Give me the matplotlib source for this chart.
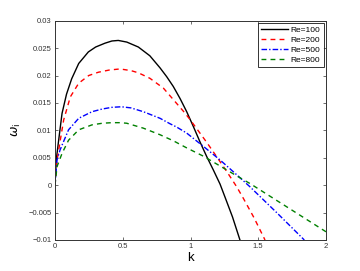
import matplotlib
matplotlib.use("Agg")
import matplotlib.pyplot as plt

# Re = 100
k_100 = [0.0, 0.002, 0.012, 0.027, 0.052, 0.085, 0.123, 0.175, 0.246, 0.30, 0.369, 0.42, 0.467, 0.53, 0.615, 0.70,
         0.775, 0.824, 0.873, 0.923, 0.972, 1.021, 1.07, 1.12, 1.168, 1.218, 1.255, 1.31, 1.365]
w_100 = [0.0, 0.0016, 0.0052, 0.0082, 0.0131, 0.0166, 0.0194, 0.0222, 0.0243, 0.0252, 0.0259, 0.0263, 0.0264, 0.0261, 0.0252, 0.0236,
         0.0214, 0.0198, 0.0180, 0.0158, 0.0134, 0.0107, 0.0079, 0.0052, 0.0028, 0.0002, -0.0022, -0.0058, -0.0100]
# Re = 200
k_200 = [0.0, 0.015, 0.039, 0.064, 0.113, 0.175, 0.249, 0.32, 0.40, 0.48, 0.56, 0.615, 0.70, 0.80, 0.849, 0.898,
         0.947, 0.996, 1.046, 1.12, 1.193, 1.27, 1.341, 1.39, 1.47, 1.55]
w_200 = [0.0, 0.0045, 0.0082, 0.0119, 0.0161, 0.0186, 0.0200, 0.0206, 0.0210, 0.0212, 0.0209, 0.0205, 0.0195, 0.0177, 0.0163, 0.0149,
         0.0135, 0.0120, 0.0103, 0.0078, 0.0052, 0.0024, -0.0003, -0.0024, -0.0060, -0.0100]
# Re = 500
k_500 = [0.0, 0.015, 0.037, 0.052, 0.10, 0.175, 0.273, 0.35, 0.42, 0.49, 0.56, 0.652, 0.775, 0.849, 0.898, 0.972,
         1.094, 1.218, 1.341, 1.439, 1.64, 1.84]
w_500 = [0.0, 0.0046, 0.0064, 0.0073, 0.0101, 0.0122, 0.0134, 0.0139, 0.0142, 0.0143, 0.0141, 0.0134, 0.0122, 0.0112, 0.0106, 0.0095,
         0.0071, 0.0046, 0.0019, -0.0003, -0.0051, -0.0100]
# Re = 800
k_800 = [0.0, 0.015, 0.052, 0.10, 0.175, 0.273, 0.35, 0.42, 0.48, 0.529, 0.652, 0.775, 0.873, 0.972, 1.094, 1.218,
         1.341, 1.439, 1.72, 2.0]
w_800 = [0.0, 0.0034, 0.0058, 0.0082, 0.0101, 0.0110, 0.0113, 0.0114, 0.0114, 0.0113, 0.0104, 0.0092, 0.0081, 0.0068, 0.0053, 0.0035,
         0.0017, 0.0003, -0.0041, -0.0085]

labels = ["Re=100", "Re=200", "Re=500", "Re=800"]
x_ticks = [0, 0.5, 1, 1.5, 2]
x_tick_labels = ["0", "0.5", "1", "1.5", "2"]
y_ticks = [-0.01, -0.005, 0, 0.005, 0.01, 0.015, 0.02, 0.025, 0.03]
y_tick_labels = ["\u22120.01", "\u22120.005", "0", "0.005", "0.01", "0.015", "0.02", "0.025", "0.03"]

plt.rcParams['font.family'] = ['Liberation Sans', 'DejaVu Sans']

fig = plt.figure(figsize=(3.6, 2.71), dpi=100)
ax = fig.add_axes([55/360, 1 - 240/271, (326-55)/360, (240-20.7)/271])

ax.plot(k_100, w_100, color='k', lw=1.0, ls='-', label=labels[0])
ax.plot(k_200, w_200, color=(1, 0, 0), lw=1.0, ls=(0, (3.5, 3)), label=labels[1])
ax.plot(k_500, w_500, color=(0, 0, 1), lw=1.0, ls=(0, (4, 1.5, 1, 1.5)), label=labels[2])
ax.plot(k_800, w_800, color=(0, 0.5, 0), lw=1.0, ls=(0, (3.5, 3)), label=labels[3])

ax.set_xlim(0, 2)
ax.set_ylim(-0.01, 0.03)
ax.set_xticks(x_ticks)
ax.set_xticklabels(x_tick_labels)
ax.set_yticks(y_ticks)
ax.set_yticklabels(y_tick_labels)
ax.tick_params(direction='in', length=2.5, width=0.5, labelsize=5.5, colors='#333333',
               top=True, right=True, pad=2.5)
for s in ax.spines.values():
    s.set_linewidth(0.7)
    s.set_color('#333333')

ax.set_xlabel('k', fontsize=9.5, labelpad=1)
ax.set_ylabel(r'$\omega_\mathrm{i}$', fontsize=9, labelpad=4)

leg = ax.legend(loc='upper right', fontsize=6, frameon=True, fancybox=False,
                edgecolor='k', handlelength=3.2, handletextpad=0.4,
                borderpad=0.35, labelspacing=0.25, borderaxespad=0.3)
leg.get_frame().set_linewidth(0.7)

fig.savefig('out.png', dpi=100)
